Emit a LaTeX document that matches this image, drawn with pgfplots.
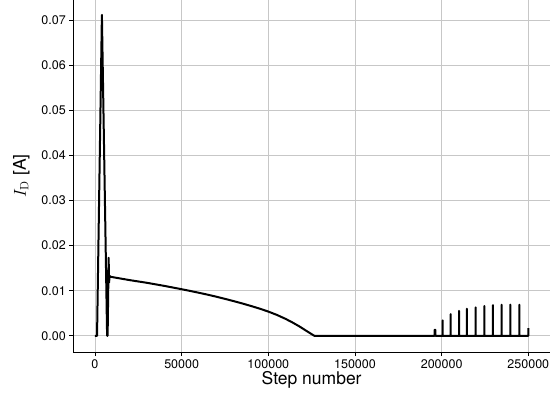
\documentclass[border=0pt]{standalone}
\usepackage{pgfplots}
\pgfplotsset{compat=1.18}
\usepackage[no-math]{fontspec}
\setmainfont{TeX Gyre Heros}
\begin{document}
\begin{tikzpicture}
\begin{axis}[
  scale only axis, width=476.7pt, height=352pt,
  xmin=-12500, xmax=262500, ymin=-0.0036, ymax=0.0745,
  axis lines=left, axis line style={-, line width=0.8pt, black},
  tick align=outside, major tick length=4pt, tick style={black, line width=0.8pt},
  xtick={0,50000,100000,150000,200000,250000},
  xticklabels={0,50000,100000,150000,200000,250000},
  ytick={0,0.01,0.02,0.03,0.04,0.05,0.06,0.07},
  yticklabels={0.00,0.01,0.02,0.03,0.04,0.05,0.06,0.07},
  grid=major, grid style={black!22, line width=0.9pt},
  scaled x ticks=false, scaled y ticks=false,
  tick label style={font=\fontsize{12.5}{14}\selectfont},
  xlabel={Step number}, ylabel={$I_{\mathrm{D}}$ [A]},
  label style={font=\fontsize{17.5}{20}\selectfont},
  xlabel style={yshift=4pt},
  ylabel style={yshift=5pt},
]
\addplot[black, line width=2pt, line join=round] coordinates {
(0,0)(1200,0)(4000,0.0712)(7000,0)(7300,0)(7900,0.0173)(8100,0.0118)(8500,0.0133)(8800,0.0131)
(20000,0.01235)(30000,0.01175)(40000,0.01107)(50000,0.01033)(55000,0.00994)(60000,0.00954)
(65000,0.00912)(70000,0.00867)(75000,0.00819)(80000,0.00769)(85000,0.00717)(90000,0.00661)
(95000,0.00602)(100000,0.00537)(105000,0.00462)(110000,0.00374)(114000,0.00294)(118000,0.00206)
(122000,0.00108)(124500,0.00048)(126500,0)
(195900,0)(195900,0.0013)(196400,0.0013)(196400,0)
(200600,0)(200600,0.0034)(200600,0)
(205200,0)(205200,0.0048)(205200,0)
(210000,0)(210000,0.0055)(210000,0)
(214600,0)(214600,0.0060)(214600,0)
(219600,0)(219600,0.0063)(219600,0)
(224600,0)(224600,0.0066)(224600,0)
(229600,0)(229600,0.0068)(229600,0)
(234600,0)(234600,0.0069)(234600,0)
(239600,0)(239600,0.0069)(239600,0)
(244800,0)(244800,0.0069)(244800,0)
(250000,0)(250000,0.0017)
};
\end{axis}
\pgfresetboundingbox
\path (current axis.south west) ++(-73.3pt,-46.2pt) rectangle ([shift={(6pt,0pt)}]current axis.north east);
\end{tikzpicture}
\end{document}
